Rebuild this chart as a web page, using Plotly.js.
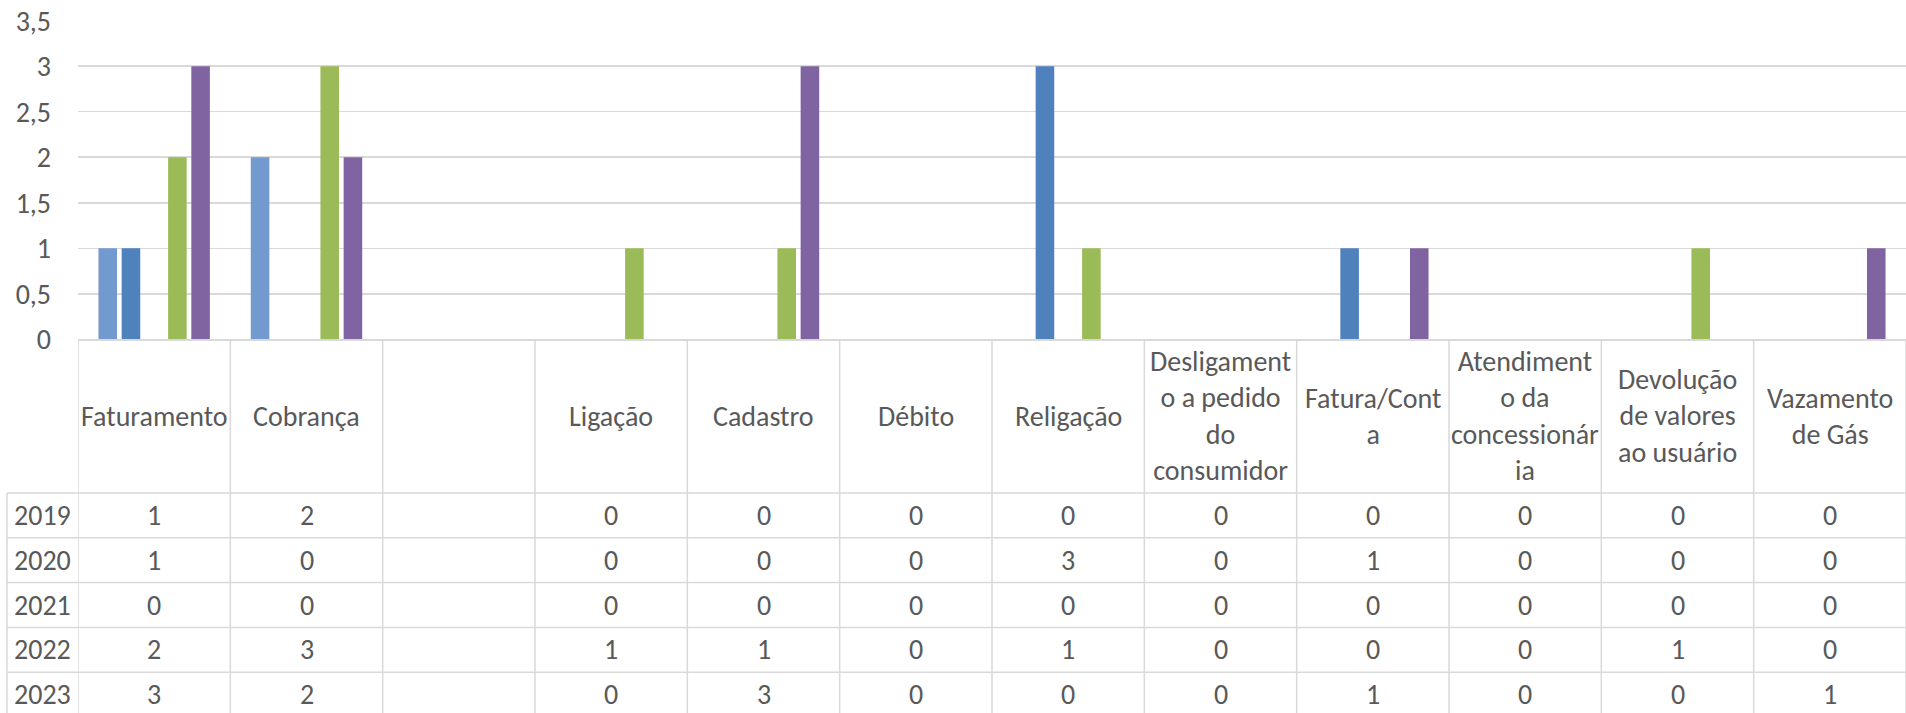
<!DOCTYPE html>
<html>
<head>
<meta charset="utf-8">
<script src="https://cdn.plot.ly/plotly-3.0.1.min.js"></script>
<style>html,body{margin:0;padding:0;background:#fff;overflow:hidden}#chart{width:1906px;height:713px}</style>
</head>
<body>
<div id="chart"></div>
<script>
// ---- data ----
var categories = ["Faturamento", "Cobrança", " ", "Ligação", "Cadastro", "Débito", "Religação",
  "Desligamento a pedido do consumidor", "Fatura/Conta", "Atendimento da concessionária",
  "Devolução de valores ao usuário", "Vazamento de Gás"];
// header labels as wrapped in the table
var headerLabels = ["Faturamento", "Cobrança", "", "Ligação", "Cadastro", "Débito", "Religação",
  "Desligament<br>o a pedido<br>do<br>consumidor", "Fatura/Cont<br>a", "Atendiment<br>o da<br>concessionár<br>ia",
  "Devolução<br>de valores<br>ao usuário", "Vazamento<br>de Gás"];
var years = ["2019", "2020", "2021", "2022", "2023"];
var v2019 = [1, 2, null, 0, 0, 0, 0, 0, 0, 0, 0, 0];
var v2020 = [1, 0, null, 0, 0, 0, 3, 0, 1, 0, 0, 0];
var v2021 = [0, 0, null, 0, 0, 0, 0, 0, 0, 0, 0, 0];
var v2022 = [2, 3, null, 1, 1, 0, 1, 0, 0, 0, 1, 0];
var v2023 = [3, 2, null, 0, 3, 0, 0, 0, 1, 0, 0, 1];
var seriesValues = [v2019, v2020, v2021, v2022, v2023];
var colors = ["#729ACE", "#4F81BD", "#C0504D", "#9BBB59", "#8064A2"];
var yTickVals = [0, 0.5, 1, 1.5, 2, 2.5, 3, 3.5];

// ---- layout helpers ----
var W = 1906, H = 713;
var FONT = "Carlito, Calibri, Lato, sans-serif";
var FS = 28;
var TXT = "#595959", GRID = "#D9D9D9";
function py(px) { return 1 - px / H; }
var plotTop = 20.7, plotBottom = 339.3;
var headerBottom = 493, rowH = 44.8;
var leftCol = 7;

var traces = seriesValues.map(function (vals, i) {
  return {
    type: "bar", name: years[i], x: categories, y: vals,
    marker: { color: colors[i] }, hoverinfo: "x+y+name"
  };
});

var shapes = [], annotations = [];
// vertical lines of table
for (var i = 0; i <= categories.length; i++) {
  shapes.push({ type: "line", xref: "x", yref: "paper", x0: i - 0.5, x1: i - 0.5,
    y0: py(plotBottom), y1: 0, line: { color: GRID, width: 1.5 } });
}
shapes.push({ type: "line", xref: "paper", yref: "paper", x0: leftCol / W, x1: leftCol / W,
  y0: py(headerBottom), y1: 0, line: { color: GRID, width: 1.5 } });
// horizontal lines
for (var r = 0; r < years.length; r++) {
  var yy = headerBottom + r * rowH;
  shapes.push({ type: "line", xref: "paper", yref: "paper", x0: leftCol / W, x1: 1,
    y0: py(yy), y1: py(yy), line: { color: GRID, width: 1.5 } });
}
// header labels
headerLabels.forEach(function (lab, i) {
  if (!lab) return;
  annotations.push({ xref: "x", yref: "paper", x: i, y: py((plotBottom + headerBottom) / 2),
    text: lab, showarrow: false, align: "center", xanchor: "center", yanchor: "middle",
    font: { family: FONT, size: FS, color: TXT } });
});
// row labels and values
years.forEach(function (yr, r) {
  var yc = py(headerBottom + (r + 0.5) * rowH);
  annotations.push({ xref: "paper", yref: "paper", x: (leftCol + 78) / 2 / W, y: yc,
    text: yr, showarrow: false, xanchor: "center", yanchor: "middle",
    font: { family: FONT, size: FS, color: TXT } });
  seriesValues[r].forEach(function (v, i) {
    if (v === null) return;
    annotations.push({ xref: "x", yref: "paper", x: i, y: yc, text: String(v),
      showarrow: false, xanchor: "center", yanchor: "middle",
      font: { family: FONT, size: FS, color: TXT } });
  });
});

var layout = {
  width: W, height: H,
  margin: { l: 0, r: 0, t: 0, b: 0, pad: 0 },
  paper_bgcolor: "#fff", plot_bgcolor: "#fff",
  separators: ", ",
  showlegend: false,
  barmode: "group", bargap: 0.238, bargroupgap: 0.2,
  font: { family: FONT, size: FS, color: TXT },
  xaxis: {
    domain: [78 / W, 1], type: "category", categoryorder: "array", categoryarray: categories,
    range: [-0.5, categories.length - 0.5], showticklabels: false, ticks: "",
    showgrid: false, zeroline: false, showline: true, linecolor: GRID, linewidth: 1.5, fixedrange: true
  },
  yaxis: {
    domain: [py(plotBottom), py(plotTop)], range: [0, 3.5], tickvals: yTickVals,
    tickformat: ".1~f", showgrid: true, gridcolor: GRID, gridwidth: 1.5, zeroline: false,
    showline: false, ticks: "", ticklabelstandoff: 26,
    tickfont: { family: FONT, size: FS, color: TXT }, fixedrange: true
  },
  shapes: shapes, annotations: annotations
};

Plotly.newPlot("chart", traces, layout, { displayModeBar: false, staticPlot: true });
</script>
</body>
</html>
